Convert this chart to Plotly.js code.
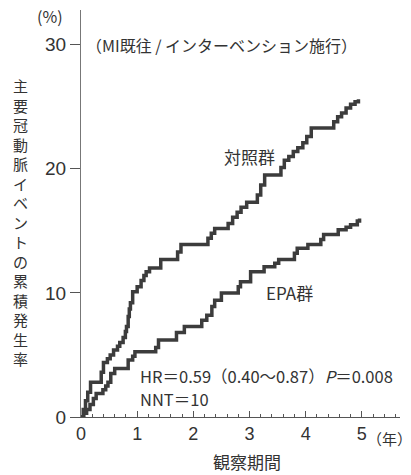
<!DOCTYPE html>
<html>
<head>
<meta charset="utf-8">
<script src="https://cdn.plot.ly/plotly-3.0.1.min.js"></script>
<style>html,body{margin:0;padding:0;background:#fff;}#chart{width:411px;height:475px;}</style>
</head>
<body>
<div id="chart"></div>
<script>
// Control group (対照群) cumulative incidence, step points (years, %)
const controlYears = [0, 0.04, 0.08, 0.12, 0.17, 0.36, 0.40, 0.47, 0.52, 0.58, 0.65, 0.69, 0.75, 0.79, 0.81, 0.84, 0.86, 0.88, 0.92, 1.00, 1.07, 1.12, 1.16, 1.22, 1.42, 1.72, 1.78, 2.26, 2.32, 2.38, 2.62, 2.70, 2.78, 2.85, 2.95, 3.14, 3.20, 3.27, 3.56, 3.62, 3.70, 3.78, 3.86, 3.95, 4.02, 4.10, 4.50, 4.57, 4.64, 4.72, 4.80, 4.88, 4.94];
const controlRate  = [0, 0.6, 1.3, 2.0, 2.8, 3.6, 4.4, 4.7, 5.0, 5.4, 5.7, 6.0, 6.4, 6.9, 7.3, 8.1, 8.7, 9.2, 10.1, 10.5, 11.0, 11.4, 11.7, 12.0, 12.7, 13.3, 13.9, 14.4, 14.8, 15.2, 15.6, 16.1, 16.5, 16.9, 17.3, 17.9, 18.7, 19.5, 20.1, 20.7, 21.0, 21.4, 21.7, 22.1, 22.6, 23.3, 23.8, 24.2, 24.5, 24.9, 25.2, 25.4, 25.6];
// EPA group (EPA群)
const epaYears = [0, 0.05, 0.10, 0.16, 0.22, 0.27, 0.39, 0.44, 0.48, 0.53, 0.60, 0.84, 0.92, 0.96, 1.33, 1.38, 1.70, 1.84, 2.15, 2.24, 2.33, 2.38, 2.50, 2.80, 2.84, 3.02, 3.26, 3.45, 3.52, 3.80, 3.85, 4.04, 4.27, 4.32, 4.58, 4.72, 4.80, 4.92, 4.96];
const epaRate  = [0, 0.3, 0.6, 1.0, 1.5, 1.9, 2.2, 2.5, 2.8, 3.5, 3.9, 4.6, 4.9, 5.25, 5.6, 6.2, 6.8, 7.3, 7.8, 8.2, 8.9, 9.4, 10.0, 10.5, 10.9, 11.7, 12.1, 12.4, 12.7, 13.2, 13.6, 13.9, 14.3, 14.7, 15.1, 15.3, 15.5, 15.8, 16.0];

const yTicks = [0, 10, 20, 30];
const xTicks = [0, 1, 2, 3, 4, 5];
const xTickText = ['0', '1', '2', '3', '4', '5'];

const jp = '"Noto Sans CJK JP", "Noto Sans", sans-serif';
const num = '"Liberation Sans", Arial, sans-serif';
const txt = '#333333';
const lineCol = '#3c3c3c';

const yTitleChars = '主要冠動脈イベントの累積発生率'.split('').join('<br>');

const traces = [
  {x: controlYears, y: controlRate, type: 'scatter', mode: 'lines', line: {shape: 'hv', color: lineCol, width: 3.5}, name: '対照群', hoverinfo: 'skip'},
  {x: epaYears, y: epaRate, type: 'scatter', mode: 'lines', line: {shape: 'hv', color: lineCol, width: 3.5}, name: 'EPA群', hoverinfo: 'skip'}
];

const layout = {
  width: 411, height: 475,
  margin: {l: 81, r: 11, t: 10, b: 58},
  paper_bgcolor: '#ffffff', plot_bgcolor: '#ffffff',
  showlegend: false,
  xaxis: {
    range: [0, 5.68], showgrid: false, zeroline: false,
    showline: true, linecolor: '#555', linewidth: 1,
    tickmode: 'array', tickvals: xTicks, ticktext: xTickText,
    ticks: 'inside', ticklen: 6, tickcolor: '#555', tickwidth: 1,
    minor: {dtick: 0.2, tick0: 0, ticks: 'inside', ticklen: 3, tickcolor: '#555', showgrid: false},
    tickfont: {family: num, size: 18, color: txt},
    fixedrange: true
  },
  yaxis: {
    range: [0, 32.8], showgrid: false, zeroline: false,
    showline: true, linecolor: '#777', linewidth: 1,
    tickmode: 'array', tickvals: yTicks,
    ticks: 'outside', ticklen: 10, tickcolor: '#555', tickwidth: 1,
    tickfont: {family: num, size: 19, color: txt},
    fixedrange: true
  },
  annotations: [
    {xref: 'paper', yref: 'paper', x: 0, y: 0.845, xanchor: 'center', yanchor: 'top', text: yTitleChars, showarrow: false, font: {family: jp, size: 15, color: txt}, xshift: -61},
    {xref: 'paper', yref: 'paper', x: 0, y: 1, xanchor: 'right', yanchor: 'top', text: '(%)', showarrow: false, font: {family: jp, size: 16, color: txt}, xshift: -16, yshift: 8},
    {xref: 'x', yref: 'y', x: 0.05, y: 30, xanchor: 'left', yanchor: 'middle', text: '（MI既往 / インターベンション施行）', showarrow: false, font: {family: jp, size: 16, color: txt}},
    {xref: 'x', yref: 'y', x: 3.0, y: 21, xanchor: 'center', yanchor: 'middle', text: '対照群', showarrow: false, font: {family: jp, size: 17, color: txt}},
    {xref: 'x', yref: 'y', x: 3.72, y: 10, xanchor: 'center', yanchor: 'middle', text: 'EPA群', showarrow: false, font: {family: jp, size: 17, color: txt}},
    {xref: 'x', yref: 'y', x: 1.04, y: 3.3, xanchor: 'left', yanchor: 'middle', text: 'HR＝0.59（0.40〜0.87）<i>P</i>＝0.008', showarrow: false, font: {family: jp, size: 16.5, color: txt}, borderpad: 0},
    {xref: 'x', yref: 'y', x: 1.04, y: 1.42, xanchor: 'left', yanchor: 'middle', text: 'NNT＝10', showarrow: false, font: {family: jp, size: 16.5, color: txt}, borderpad: 0},
    {xref: 'x', yref: 'paper', x: 5.06, y: 0, xanchor: 'left', yanchor: 'top', text: '（年）', showarrow: false, font: {family: jp, size: 15, color: txt}, yshift: -9},
    {xref: 'x', yref: 'paper', x: 2.95, y: 0, xanchor: 'center', yanchor: 'top', text: '観察期間', showarrow: false, font: {family: jp, size: 17, color: txt}, yshift: -30}
  ]
};

Plotly.newPlot('chart', traces, layout, {staticPlot: true, displayModeBar: false});
</script>
</body>
</html>
